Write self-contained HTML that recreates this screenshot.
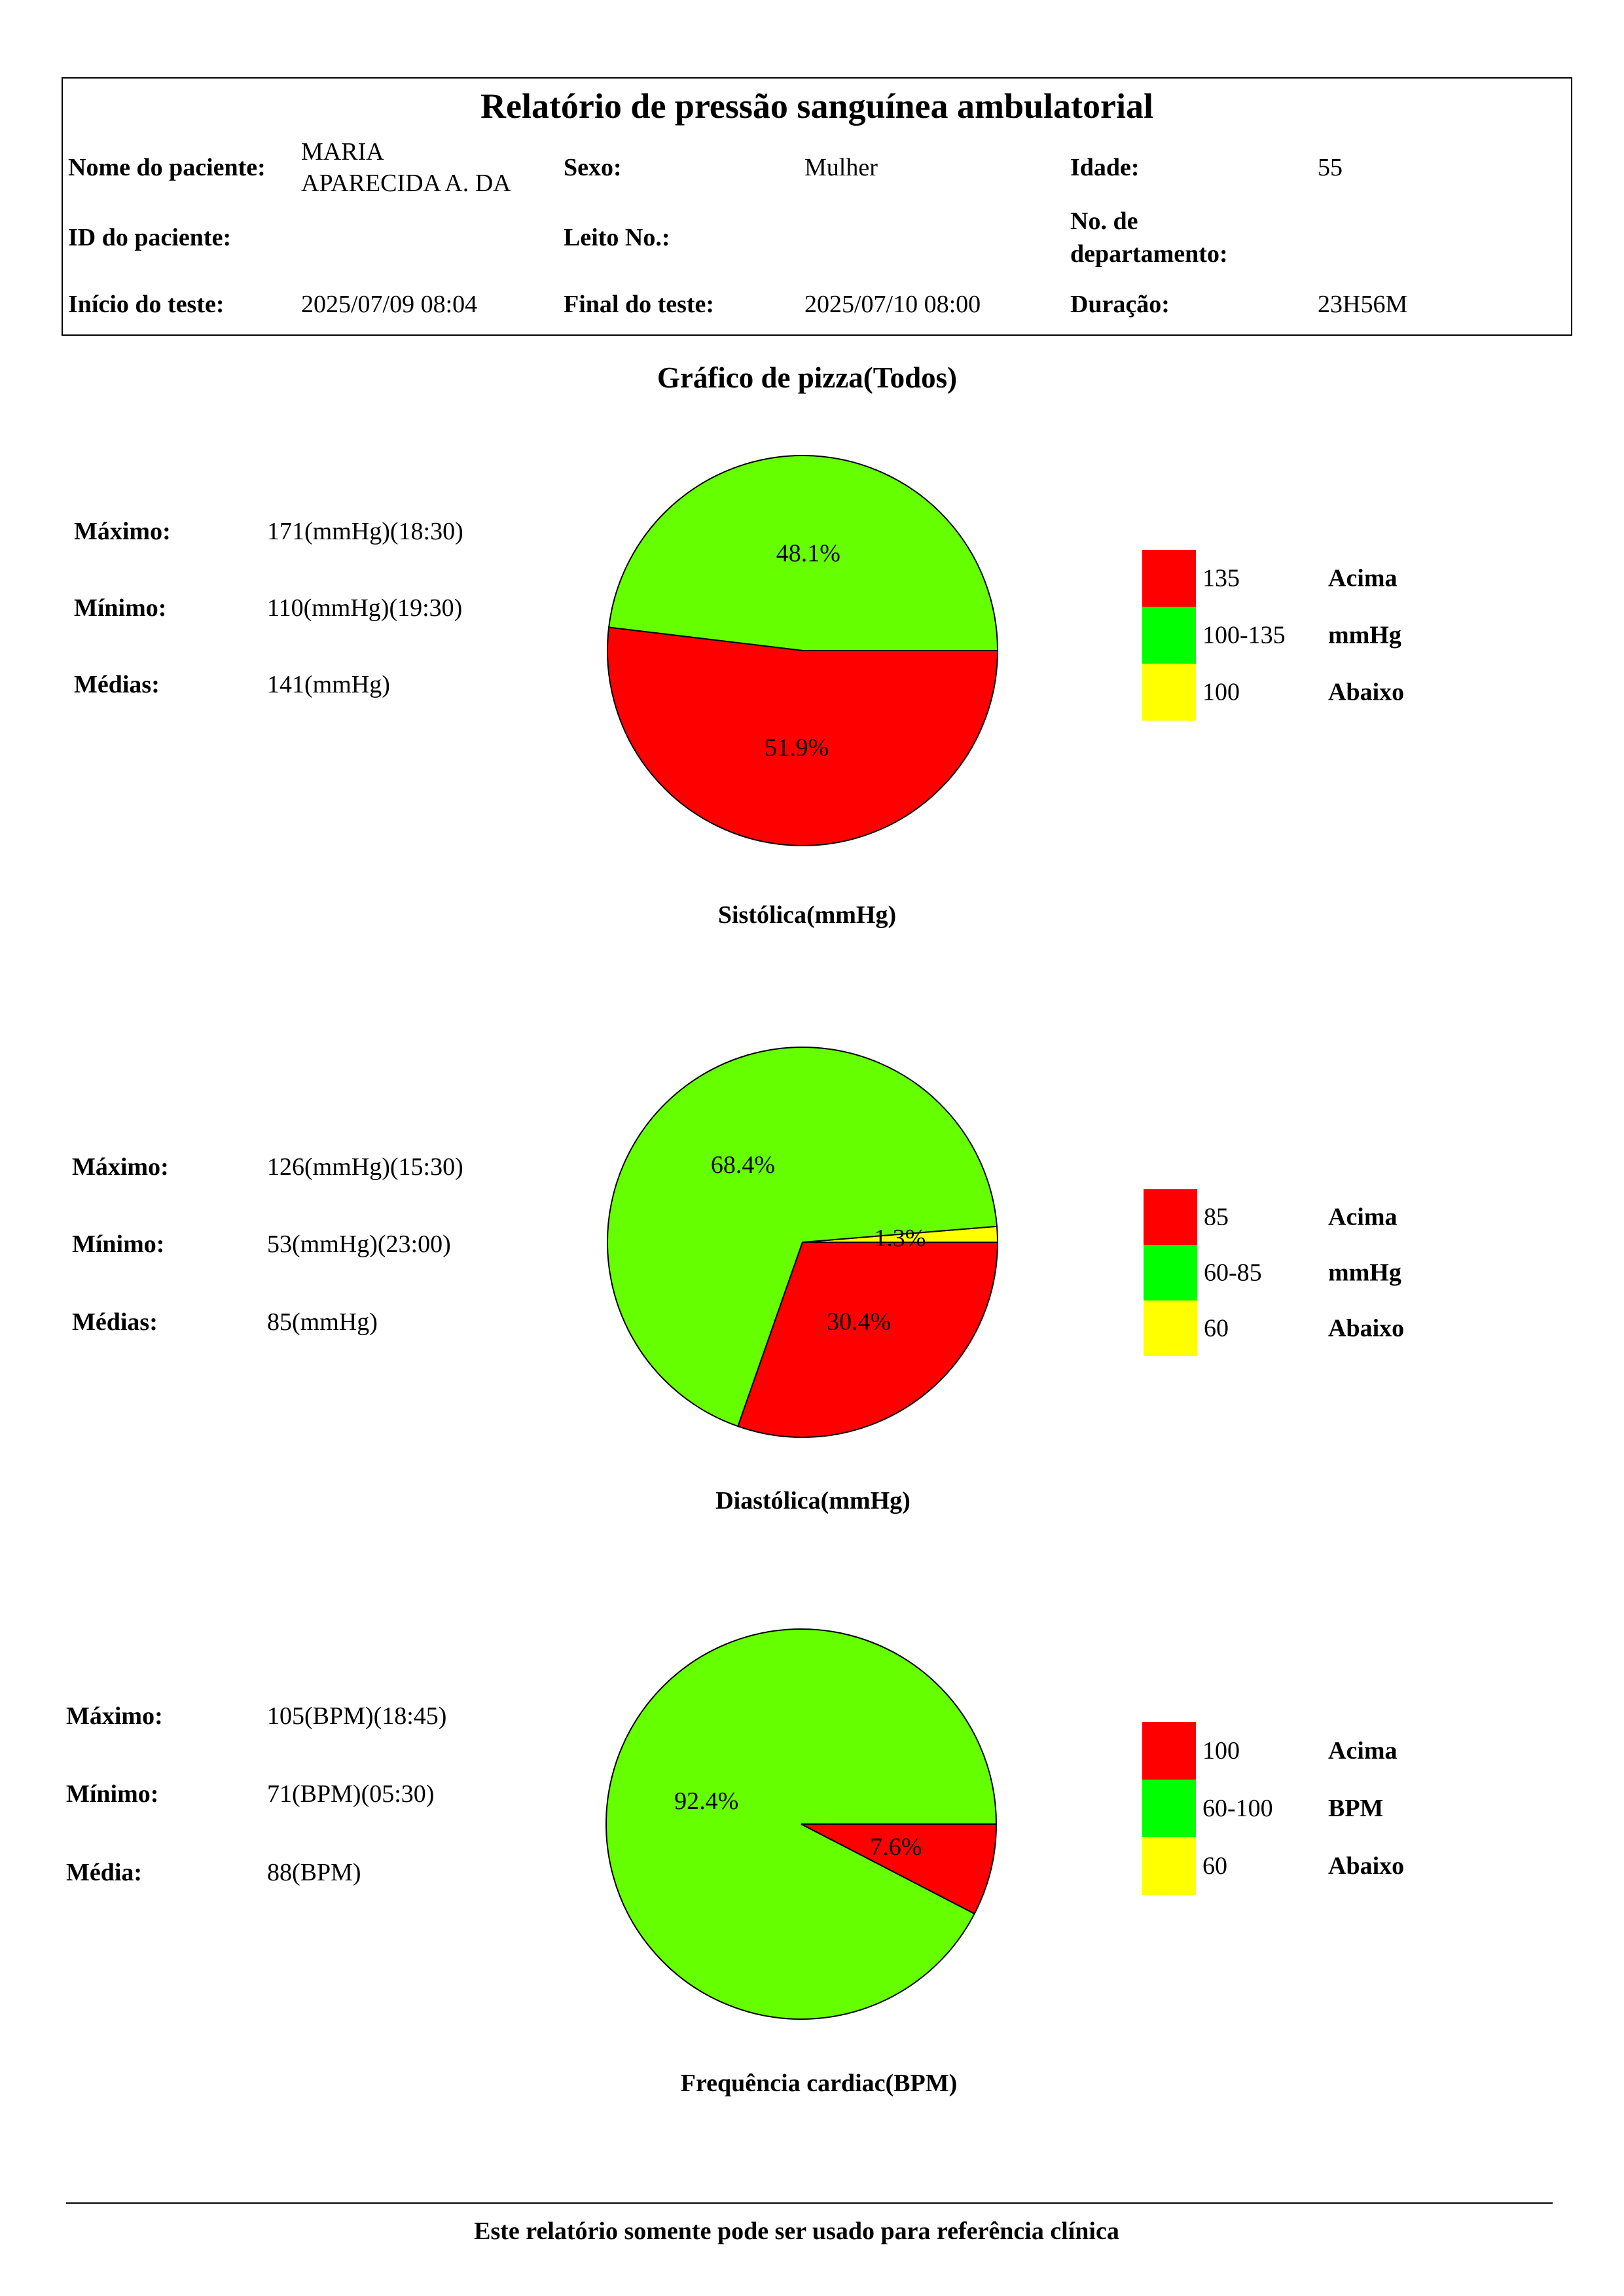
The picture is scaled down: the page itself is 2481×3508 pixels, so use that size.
<!DOCTYPE html>
<html><head><meta charset="utf-8"><style>
html,body{margin:0;padding:0;background:#fff}
svg{display:block;font-family:"Liberation Serif",serif}
</style></head><body>
<svg id="page" width="2481" height="3508" viewBox="0 0 2481 3508" xmlns="http://www.w3.org/2000/svg">
<g font-size="38" dominant-baseline="central" fill="#000">
<rect x="95" y="119" width="2306" height="393" fill="none" stroke="#000" stroke-width="2"/>
<text x="1248" y="162" font-size="54" font-weight="bold" text-anchor="middle">Relatório de pressão sanguínea ambulatorial</text>
<text x="104" y="256" font-weight="bold">Nome do paciente:</text>
<text x="460" y="232">MARIA</text>
<text x="460" y="280">APARECIDA A. DA</text>
<text x="861" y="256" font-weight="bold">Sexo:</text>
<text x="1229" y="256">Mulher</text>
<text x="1635" y="256" font-weight="bold">Idade:</text>
<text x="2013" y="256">55</text>
<text x="104" y="363" font-weight="bold">ID do paciente:</text>
<text x="861" y="363" font-weight="bold">Leito No.:</text>
<text x="1635" y="338" font-weight="bold">No. de</text>
<text x="1635" y="388" font-weight="bold">departamento:</text>
<text x="104" y="465" font-weight="bold">Início do teste:</text>
<text x="460" y="465">2025/07/09 08:04</text>
<text x="861" y="465" font-weight="bold">Final do teste:</text>
<text x="1229" y="465">2025/07/10 08:00</text>
<text x="1635" y="465" font-weight="bold">Duração:</text>
<text x="2013" y="465">23H56M</text>
<text x="1233" y="577" font-size="45" font-weight="bold" text-anchor="middle">Gráfico de pizza(Todos)</text>
<line x1="101" y1="3366" x2="2372" y2="3366" stroke="#000" stroke-width="2"/>
<text x="1217" y="3409" font-weight="bold" text-anchor="middle">Este relatório somente pode ser usado para referência clínica</text>
</g>
<g id="charts" font-size="38" dominant-baseline="central"></g>
</svg>
<script>
// slice order (counterclockwise from 3 o'clock): Abaixo, normal, Acima
const sysValues = [0, 48.1, 51.9];
const diaValues = [1.3, 68.4, 30.4];
const hrValues = [0, 92.4, 7.6];
const sysStats = ["171(mmHg)(18:30)", "110(mmHg)(19:30)", "141(mmHg)"];
const diaStats = ["126(mmHg)(15:30)", "53(mmHg)(23:00)", "85(mmHg)"];
const hrStats = ["105(BPM)(18:45)", "71(BPM)(05:30)", "88(BPM)"];
const sysLegend = ["135", "100-135", "100"];
const diaLegend = ["85", "60-85", "60"];
const hrLegend = ["100", "60-100", "60"];

const NS = "http://www.w3.org/2000/svg";
const root = document.getElementById("charts");
const sliceColors = ["#ffff00", "#66ff00", "#ff0000"];
const legendColors = ["#ff0000", "#00ff00", "#ffff00"];
function mk(tag, attrs, parent) {
  const e = document.createElementNS(NS, tag);
  for (const k in attrs) e.setAttribute(k, attrs[k]);
  parent.appendChild(e);
  return e;
}
function txt(x, y, s, bold, anchor, parent) {
  const t = mk("text", {x: x, y: y}, parent);
  if (bold) t.setAttribute("font-weight", "bold");
  if (anchor) t.setAttribute("text-anchor", anchor);
  t.textContent = s;
  return t;
}
function drawPie(cfg) {
  const g = mk("g", {}, root);
  
  
  const total = cfg.values.reduce((a, b) => a + b, 0);
  const r = 298, cx = cfg.cx, cy = cfg.cy;
  let a0 = 0;
  cfg.values.forEach((v, i) => {
    if (v <= 0) return;
    const a1 = a0 + v / total * 2 * Math.PI;
    const x0 = cx + r * Math.cos(a0), y0 = cy - r * Math.sin(a0);
    const x1 = cx + r * Math.cos(a1), y1 = cy - r * Math.sin(a1);
    const large = (a1 - a0) > Math.PI ? 1 : 0;
    const p = mk("path", {d: `M${cx},${cy} L${x0},${y0} A${r},${r} 0 ${large} 0 ${x1},${y1} Z`, fill: sliceColors[i], stroke: "#000", "stroke-width": 2}, g);
    
    
    a0 = a1;
  });
  a0 = 0;
  cfg.values.forEach((v, i) => {
    if (v <= 0) return;
    const a1 = a0 + v / total * 2 * Math.PI, am = (a0 + a1) / 2;
    const t = txt(cx + 0.5 * r * Math.cos(am), cy - 0.5 * r * Math.sin(am), v.toFixed(1) + "%", false, "middle", g);
    
    
    a0 = a1;
  });
  const c = txt(cfg.capX, cfg.capY, cfg.caption, true, "middle", g);
  
  
  // stats
  cfg.statLabels.forEach((s, i) => {
    const l = txt(cfg.statX, cfg.statY[i], s, true, null, g);
    
    
    const vv = txt(408, cfg.statY[i], cfg.stats[i], false, null, g);
    
    
  });
  // legend
  const names = ["Acima", cfg.unit, "Abaixo"];
  for (let i = 0; i < 3; i++) {
    const y = cfg.legY + i * cfg.legH;
    const b = mk("rect", {x: cfg.legX, y: y, width: 82, height: cfg.legH, fill: legendColors[i]}, g);
    
    
    const a = txt(cfg.legX + 92, y + cfg.legH / 2, cfg.legend[i], false, null, g);
    
    
    const n = txt(2029, y + cfg.legH / 2, names[i], true, null, g);
    
    
  }
}
drawPie({name: "systolic-pie", values: sysValues, cx: 1226, cy: 994, caption: "Sistólica(mmHg)", capX: 1233, capY: 1398,
  statX: 113, statY: [812, 929, 1046], statLabels: ["Máximo:", "Mínimo:", "Médias:"], stats: sysStats,
  legX: 1745, legY: 840, legH: 87, legend: sysLegend, unit: "mmHg"});
drawPie({name: "diastolic-pie", values: diaValues, cx: 1226, cy: 1898, caption: "Diastólica(mmHg)", capX: 1242, capY: 2293,
  statX: 110, statY: [1783, 1901, 2020], statLabels: ["Máximo:", "Mínimo:", "Médias:"], stats: diaStats,
  legX: 1747, legY: 1817, legH: 85, legend: diaLegend, unit: "mmHg"});
drawPie({name: "heart-rate-pie", values: hrValues, cx: 1224, cy: 2787, caption: "Frequência cardiac(BPM)", capX: 1251, capY: 3183,
  statX: 101, statY: [2622, 2741, 2861], statLabels: ["Máximo:", "Mínimo:", "Média:"], stats: hrStats,
  legX: 1745, legY: 2631, legH: 88, legend: hrLegend, unit: "BPM"});
</script>
</body></html>
